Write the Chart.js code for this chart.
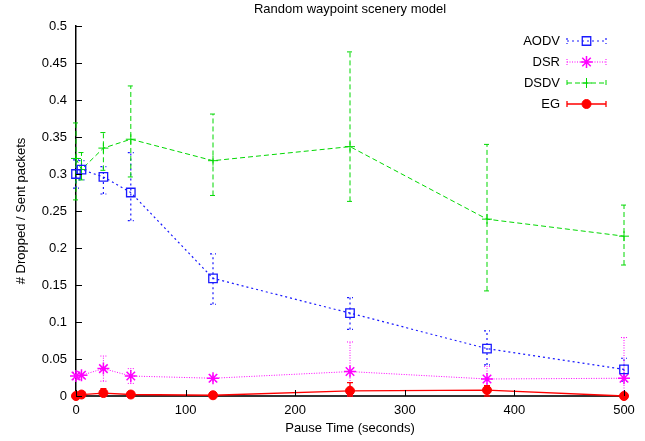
<!DOCTYPE html>
<html>
<head>
<meta charset="utf-8">
<script src="https://cdn.jsdelivr.net/npm/chart.js@4/dist/chart.umd.min.js"></script>
<style>
  html, body { margin: 0; padding: 0; background: #fff; }
</style>
</head>
<body>
<canvas id="chart" width="645" height="441"></canvas>
<script>
// pause time on x, dropped/sent ratio on y (mean + error bar ends)
const pauseTimes = [0, 5, 25, 50, 125, 250, 375, 500];

const aodv     = [0.300, 0.306, 0.296, 0.275, 0.159, 0.112, 0.064, 0.036];
const aodvLow  = [0.281, 0.292, 0.273, 0.237, 0.124, 0.090, 0.042, 0.020];
const aodvHigh = [0.319, 0.318, 0.310, 0.329, 0.192, 0.133, 0.088, 0.051];

const dsr     = [0.027, 0.028, 0.037, 0.027, 0.024, 0.033, 0.023, 0.024];
const dsrLow  = [0.022, 0.024, 0.020, 0.017, 0.020, 0.000, 0.006, 0.000];
const dsrHigh = [0.032, 0.032, 0.054, 0.037, 0.028, 0.073, 0.040, 0.079];

const dsdv     = [0.321, 0.306, 0.335, 0.347, 0.318, 0.337, 0.239, 0.216];
const dsdvLow  = [0.265, 0.292, 0.305, 0.296, 0.271, 0.263, 0.142, 0.177];
const dsdvHigh = [0.369, 0.329, 0.356, 0.419, 0.381, 0.465, 0.340, 0.258];

const eg     = [0.000, 0.002, 0.004, 0.002, 0.001, 0.007, 0.008, 0.000];
const egLow  = [0.000, 0.000, 0.000, 0.000, 0.000, 0.000, 0.000, 0.000];
const egHigh = [0.001, 0.003, 0.010, 0.003, 0.002, 0.018, 0.014, 0.000];

const FONT = "'Liberation Sans', Arial, sans-serif";

function pts(vals) {
  return vals.map((v, i) => ({ x: pauseTimes[i], y: v }));
}

// vertical error bars with small caps, same colour/dash as the line
const errorBars = {
  id: "errorBars",
  beforeDatasetsDraw(chart) {
    const ctx = chart.ctx;
    const xs = chart.scales.x, ys = chart.scales.y;
    chart.data.datasets.forEach((ds) => {
      ctx.save();
      ctx.strokeStyle = ds.borderColor;
      ctx.lineWidth = ds.borderWidth;
      ctx.setLineDash(ds.borderDash || []);
      ds.errLow.forEach((lo, i) => {
        const px = xs.getPixelForValue(pauseTimes[i]);
        const y1 = ys.getPixelForValue(lo);
        const y2 = ys.getPixelForValue(ds.errHigh[i]);
        ctx.beginPath();
        ctx.moveTo(px, y1); ctx.lineTo(px, y2);
        ctx.moveTo(px - 3, y1); ctx.lineTo(px + 3, y1);
        ctx.moveTo(px - 3, y2); ctx.lineTo(px + 3, y2);
        ctx.stroke();
      });
      ctx.restore();
    });
  },
};

// gnuplot style: ticks pointing into the plot, title, key at top right
const decorations = {
  id: "decorations",
  afterDraw(chart) {
    const ctx = chart.ctx;
    const xs = chart.scales.x, ys = chart.scales.y;
    const area = chart.chartArea;
    ctx.save();
    ctx.strokeStyle = "#000";
    ctx.lineWidth = 1;
    ys.ticks.forEach((t) => {
      const py = Math.round(ys.getPixelForValue(t.value)) + 0.5;
      ctx.beginPath(); ctx.moveTo(area.left, py); ctx.lineTo(area.left + 6, py); ctx.stroke();
    });
    xs.ticks.forEach((t) => {
      const px = Math.round(xs.getPixelForValue(t.value)) + 0.5;
      ctx.beginPath(); ctx.moveTo(px, area.bottom); ctx.lineTo(px, area.bottom - 6); ctx.stroke();
    });

    ctx.fillStyle = "#000";
    ctx.font = "13px " + FONT;
    ctx.textAlign = "center";
    ctx.textBaseline = "middle";
    ctx.fillText("Random waypoint scenery model", (area.left + area.right) / 2, 9);

    chart.data.datasets.forEach((ds, i) => {
      const ry = 41 + i * 21;
      ctx.fillStyle = "#000";
      ctx.textAlign = "right";
      ctx.fillText(ds.label, 560, ry);
      ctx.save();
      ctx.strokeStyle = ds.borderColor;
      ctx.lineWidth = ds.borderWidth;
      ctx.setLineDash(ds.borderDash || []);
      ctx.beginPath();
      ctx.moveTo(567, ry); ctx.lineTo(606, ry);
      ctx.moveTo(567, ry - 3); ctx.lineTo(567, ry + 3);
      ctx.moveTo(606, ry - 3); ctx.lineTo(606, ry + 3);
      ctx.stroke();
      ctx.setLineDash([]);
      ctx.fillStyle = ds.pointBackgroundColor;
      ctx.strokeStyle = ds.borderColor;
      ctx.lineWidth = ds.pointBorderWidth;
      Chart.helpers.drawPoint(ctx, {
        pointStyle: ds.pointStyle, radius: ds.pointRadius,
        borderWidth: ds.pointBorderWidth, rotation: 0,
      }, 586.5, ry);
      ctx.restore();
    });
    ctx.restore();
  },
};

new Chart(document.getElementById("chart"), {
  type: "line",
  data: {
    datasets: [
      {
        label: "AODV", data: pts(aodv), errLow: aodvLow, errHigh: aodvHigh,
        borderColor: "#1a1aff", borderWidth: 1.2, borderDash: [2, 3],
        pointStyle: "rect", pointRadius: 6, pointBorderWidth: 1.3,
        pointBackgroundColor: "rgba(0,0,0,0)", clip: false,
      },
      {
        label: "DSR", data: pts(dsr), errLow: dsrLow, errHigh: dsrHigh,
        borderColor: "#ff00ff", borderWidth: 1, borderDash: [1, 1.5],
        pointStyle: "star", pointRadius: 6, pointBorderWidth: 1.5,
        pointBackgroundColor: "#ff00ff", clip: false,
      },
      {
        label: "DSDV", data: pts(dsdv), errLow: dsdvLow, errHigh: dsdvHigh,
        borderColor: "#00d800", borderWidth: 1, borderDash: [5, 3],
        pointStyle: "cross", pointRadius: 5, pointBorderWidth: 1,
        pointBackgroundColor: "#00d800", clip: false,
      },
      {
        label: "EG", data: pts(eg), errLow: egLow, errHigh: egHigh,
        borderColor: "#ff0000", borderWidth: 1.3,
        pointStyle: "circle", pointRadius: 4.5, pointBorderWidth: 1,
        pointBackgroundColor: "#ff0000", clip: false,
      },
    ],
  },
  options: {
    responsive: false,
    devicePixelRatio: 1,
    animation: false,
    layout: { padding: { top: 26, right: 21, left: 0, bottom: 0 } },
    plugins: { legend: { display: false }, tooltip: { enabled: false } },
    elements: { line: { tension: 0, fill: false } },
    scales: {
      x: {
        type: "linear", min: 0, max: 500,
        afterFit(s) { s.height = 45; },
        grid: { display: false, drawTicks: false },
        border: { display: true, color: "#333", width: 2 },
        ticks: { stepSize: 100, padding: 7, color: "#000", font: { family: FONT, size: 13 } },
        title: { display: true, text: "Pause Time (seconds)", color: "#000",
                 padding: { top: 0, bottom: 5 }, font: { family: FONT, size: 13 } },
      },
      y: {
        min: 0, max: 0.5,
        afterFit(s) { s.width = 76; },
        grid: { display: false, drawTicks: false },
        border: { display: true, color: "#000", width: 1.5 },
        ticks: {
          stepSize: 0.05, padding: 9, color: "#000", font: { family: FONT, size: 13 },
          callback: (v) => String(+v.toFixed(2)),
        },
        title: { display: true, text: "# Dropped / Sent packets", color: "#000",
                 padding: { top: 14, bottom: 0 }, font: { family: FONT, size: 13 } },
      },
    },
  },
  plugins: [errorBars, decorations],
});
</script>
</body>
</html>
